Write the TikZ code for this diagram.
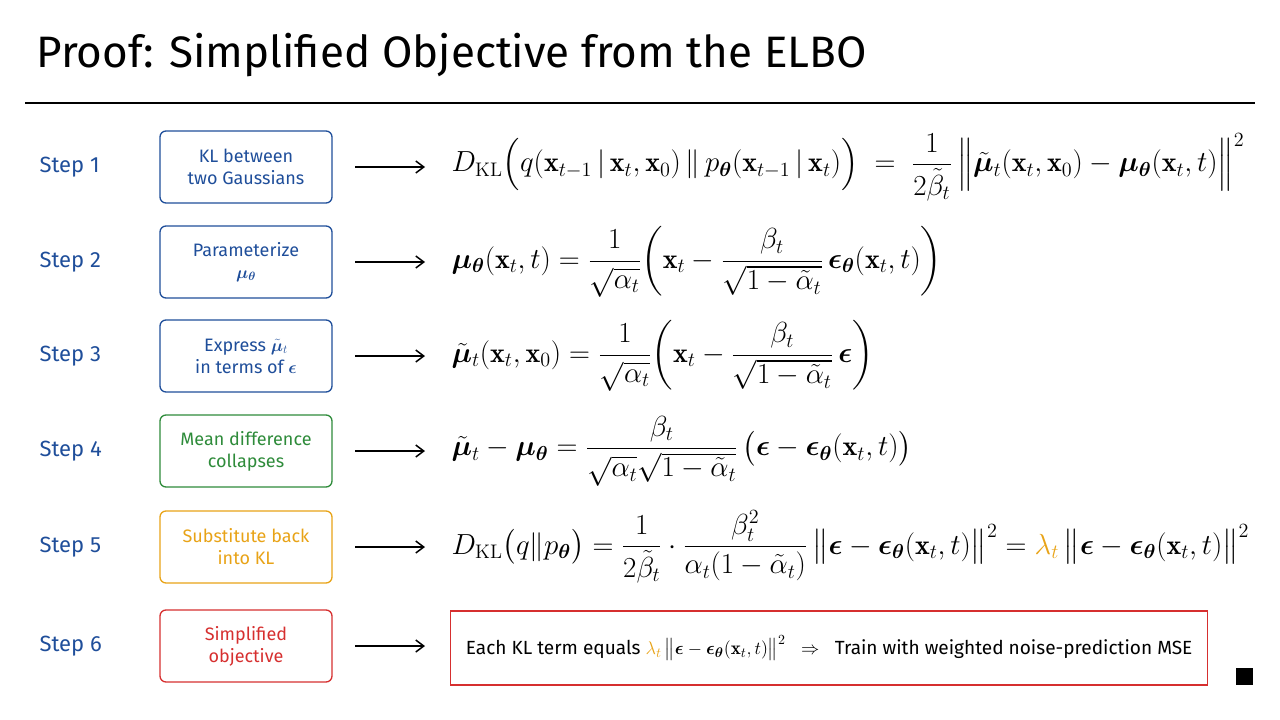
\documentclass[tikz,border=0pt]{standalone}
\usepackage{amsmath,bm,graphicx}
\usepackage{fontspec}
\setsansfont{Fira Sans}
\usetikzlibrary{arrows.meta}
\begin{document}
\begin{tikzpicture}[x=1pt,y=-1pt,
  font=\sffamily,
  steplbl/.style={anchor=west,text=stepblue,font=\sffamily\fontsize{22}{24}\selectfont},
  stepbox/.style={draw=#1,text=#1,line width=1.3pt,rounded corners=6pt,minimum width=172pt,minimum height=72pt,align=center,font=\sffamily\fontsize{18}{22}\selectfont},
  conn/.style={-{Straight Barb[length=8pt,width=12pt]},line width=1.5pt},
  eq/.style={anchor=west,font=\fontsize{20}{24}\selectfont}]
\definecolor{stepblue}{HTML}{1F4E9A}
\definecolor{stepgreen}{HTML}{2E8B3A}
\definecolor{steporange}{HTML}{E8A317}
\definecolor{stepred}{HTML}{D62F2F}
\useasboundingbox (0,0) rectangle (1280,720);
\node[anchor=west,font=\sffamily\fontsize{44}{48}\selectfont] (title) at (33,55) {Proof: Simplified Objective from the ELBO};
\coordinate (la) at (25,103); \coordinate (lb) at (1255,103);
\draw[line width=2pt] (la) -- (lb);

\foreach \i/\y in {1/167,2/262,3/356,4/451,5/547,6/646}{
  \node[steplbl] (s\i) at (36,\y) {Step \i};
  \coordinate (a\i) at (355,\y); \coordinate (b\i) at (425,\y);
  \draw[conn] (a\i) -- (b\i);
}
\node[stepbox=stepblue] (k1) at (246,167) {KL between\\two Gaussians};
\node[stepbox=stepblue] (k2) at (246,262) {Parameterize\\$\bm{\mu}_{\bm\theta}$};
\node[stepbox=stepblue] (k3) at (246,356) {Express $\tilde{\bm{\mu}}_t$\\in terms of $\bm{\epsilon}$};
\node[stepbox=stepgreen] (k4) at (246,451) {Mean difference\\collapses};
\node[stepbox=steporange] (k5) at (246,547) {Substitute back\\into KL};
\node[stepbox=stepred] (k6) at (246,646) {Simplified\\objective};

\node[eq] (e1) at (448,167) {\scalebox{1.4}{$D_{\mathrm{KL}}\Big(q(\mathbf{x}_{t-1}\,|\,\mathbf{x}_t,\mathbf{x}_0)\,\|\,p_{\bm\theta}(\mathbf{x}_{t-1}\,|\,\mathbf{x}_t)\Big) \;=\; \dfrac{1}{2\tilde{\beta}_t}\,\Big\|\tilde{\bm\mu}_t(\mathbf{x}_t,\mathbf{x}_0)-\bm\mu_{\bm\theta}(\mathbf{x}_t,t)\Big\|^2$}};
\node[eq] (e2) at (448,262) {\scalebox{1.4}{$\bm\mu_{\bm\theta}(\mathbf{x}_t,t)=\dfrac{1}{\sqrt{\alpha_t}}\bigg(\mathbf{x}_t-\dfrac{\beta_t}{\sqrt{1-\tilde\alpha_t}}\,\bm\epsilon_{\bm\theta}(\mathbf{x}_t,t)\bigg)$}};
\node[eq] (e3) at (448,356) {\scalebox{1.4}{$\tilde{\bm\mu}_t(\mathbf{x}_t,\mathbf{x}_0)=\dfrac{1}{\sqrt{\alpha_t}}\bigg(\mathbf{x}_t-\dfrac{\beta_t}{\sqrt{1-\tilde\alpha_t}}\,\bm\epsilon\bigg)$}};
\node[eq] (e4) at (448,451) {\scalebox{1.4}{$\tilde{\bm\mu}_t-\bm\mu_{\bm\theta}=\dfrac{\beta_t}{\sqrt{\alpha_t}\sqrt{1-\tilde\alpha_t}}\,\big(\bm\epsilon-\bm\epsilon_{\bm\theta}(\mathbf{x}_t,t)\big)$}};
\node[eq] (e5) at (448,547) {\scalebox{1.4}{$D_{\mathrm{KL}}\big(q\|p_{\bm\theta}\big)=\dfrac{1}{2\tilde\beta_t}\cdot\dfrac{\beta_t^2}{\alpha_t(1-\tilde\alpha_t)}\,\big\|\bm\epsilon-\bm\epsilon_{\bm\theta}(\mathbf{x}_t,t)\big\|^2=\textcolor{steporange}{\lambda_t}\,\big\|\bm\epsilon-\bm\epsilon_{\bm\theta}(\mathbf{x}_t,t)\big\|^2$}};
\node[draw=stepred,line width=1.3pt,minimum width=757pt,minimum height=74pt,anchor=west,font=\sffamily\fontsize{15}{18}\selectfont] (e6) at (450,648) {\scalebox{1.27}{Each KL term equals $\textcolor{steporange}{\lambda_t}\,\big\|\bm\epsilon-\bm\epsilon_{\bm\theta}(\mathbf{x}_t,t)\big\|^2$ \; $\Rightarrow$ \; Train with weighted noise-prediction MSE}};
\node[fill=black,minimum size=17pt,inner sep=0pt] (sq) at (1244,676) {};
\end{tikzpicture}
\end{document}
